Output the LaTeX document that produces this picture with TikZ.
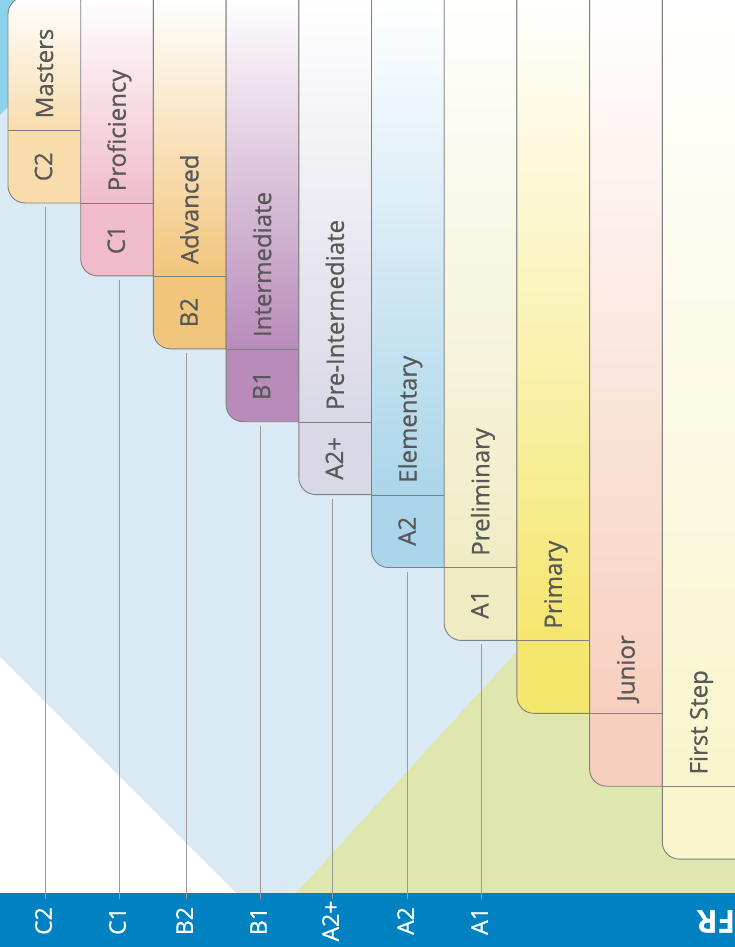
\documentclass[tikz,border=0pt]{standalone}
\usepackage{fontspec}
\setmainfont{Open Sans}
\newfontfamily\semifont[FakeBold=0.7]{Open Sans}
\definecolor{bgblue}{HTML}{DAEAF5}
\definecolor{brightblue}{HTML}{8DD2EC}
\definecolor{bggreen}{HTML}{DFE6AE}
\definecolor{barblue}{HTML}{0082C2}
\definecolor{boxline}{HTML}{808080}
\definecolor{txt}{HTML}{585858}
\definecolor{guide}{HTML}{9A9A9A}
\definecolor{cA}{HTML}{F8DCAC}
\definecolor{cB}{HTML}{F0BCCB}
\definecolor{cC}{HTML}{F2C57C}
\definecolor{cD}{HTML}{B98BBA}
\definecolor{cE}{HTML}{D9D8E6}
\definecolor{cF}{HTML}{ABD5EA}
\definecolor{cG}{HTML}{EFECC4}
\definecolor{cH}{HTML}{F5E66E}
\definecolor{cI}{HTML}{F7CFBE}
\definecolor{cJ}{HTML}{F8F5CC}
\tikzset{
  outline/.style={draw=boxline, line width=0.9pt},
  lvlname/.style={text=txt, font=\semifont\fontsize{24}{28}\selectfont, rotate=90, inner sep=0pt, anchor=base west},
  lvlcode/.style={text=txt, font=\semifont\fontsize{24}{28}\selectfont, rotate=90, inner sep=0pt, anchor=center},
  barlabel/.style={text=white, font=\semifont\fontsize{23}{27}\selectfont, rotate=90, inner sep=0pt, anchor=center},
  guideline/.style={draw=guide, line width=0.7pt},
  frlabel/.style={text=white, font=\bfseries\fontsize{32}{36}\selectfont, rotate=180, inner sep=0pt, anchor=center},
}
\begin{document}
\begin{tikzpicture}[x=1pt,y=1pt]
\useasboundingbox (0,0) rectangle (735,-947);
\clip (0,0) rectangle (735,-947);
% background
\fill[bgblue] (0,0) rectangle (735,-947);
\fill[brightblue] (0,0) -- (115,0) -- (0,-115) -- cycle;
\fill[white] (0,-657) -- (236,-893) -- (0,-893) -- cycle;
\fill[bggreen] (296,-893) -- (735,-413) -- (735,-893) -- cycle;
% columns
\foreach \i/\name/\col in {0/Masters/cA,1/Proficiency/cB,2/Advanced/cC,3/Intermediate/cD,4/Pre-Intermediate/cE,5/Elementary/cF,6/Preliminary/cG,7/Primary/cH,8/Junior/cI,9/First Step/cJ}{
  \pgfmathsetmacro\xl{8+72.7*\i}
  \pgfmathsetmacro\xr{\i==9 ? 745 : 8+72.7*(\i+1)}
  \pgfmathsetmacro\bt{203+72.9*\i}
  \pgfmathsetmacro\dv{\bt-72.5}
  \ifnum\i=0
    \shade[top color=white,bottom color=\col] (\xr,4) -- (\xr,-\dv) -- (\xl,-\dv) -- (\xl,-14) arc[start angle=180,end angle=90,radius=17] -- cycle;
  \else
    \shade[top color=white,bottom color=\col] (\xl,4) rectangle (\xr,-\dv);
  \fi
  \fill[\col] (\xr,-\dv) -- (\xl,-\dv) -- (\xl,-\bt+17) arc[start angle=180,end angle=270,radius=17] -- (\xr,-\bt) -- cycle;
  \ifnum\i=0
    \draw[outline] (\xl+17,3) arc[start angle=90,end angle=180,radius=17] -- (\xl,-\bt+17) arc[start angle=180,end angle=270,radius=17] -- (\xr,-\bt) -- (\xr,4);
  \else
    \draw[outline] (\xl,4) -- (\xl,-\bt+17) arc[start angle=180,end angle=270,radius=17] -- (\xr,-\bt) -- (\xr,4);
  \fi
  \draw[outline] (\xl,-\dv) -- (\xr,-\dv);
  \node[lvlname] (name\i) at (\xl+45,-\dv+12) {\name};
}
% bottom bar
\fill[barblue] (0,-893) rectangle (735,-947);
% codes, guide lines and bar labels
\foreach \i/\code/\lx in {0/C2/45,1/C1/119,2/B2/186,3/B1/260,4/A2+/332,5/A2/407,6/A1/481}{
  \pgfmathsetmacro\xl{8+72.7*\i}
  \pgfmathsetmacro\bt{203+72.9*\i}
  \node[lvlcode] (code\i) at (\xl+35.5,-\bt+36.25) {\code};
  \coordinate (gtop\i) at (\lx,-\bt-4);
  \coordinate (gend\i) at (\lx,-899);
  \draw[guideline] (gtop\i) -- (gend\i);
  \node[barlabel] (bar\i) at (\lx-1.5,-921) {\code};
}
\node[frlabel] (fr) at (716,-921.5) {FR};
\end{tikzpicture}
\end{document}
